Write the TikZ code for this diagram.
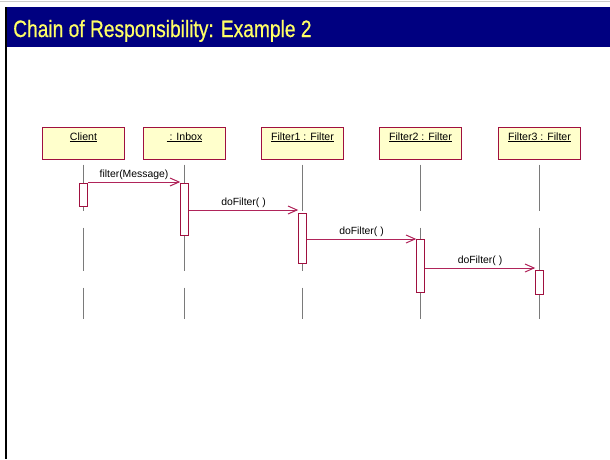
\documentclass[tikz,border=0pt]{standalone}
\usepackage{fontspec}
\setmainfont{Liberation Sans}
\newfontfamily\titlefont[FakeBold=0.6]{Liberation Sans}
\usetikzlibrary{arrows.meta}
\definecolor{barblue}{HTML}{000080}
\definecolor{titleyellow}{HTML}{FFFF66}
\definecolor{objfill}{HTML}{FFFFCC}
\definecolor{objline}{HTML}{A0103F}
\definecolor{msgline}{HTML}{B0245A}
\definecolor{lifegray}{HTML}{7A7A7A}
\begin{document}
\begin{tikzpicture}[x=1pt,y=-1pt,
  obj/.style={draw=objline, line width=1pt, fill=objfill, minimum width=82pt,
    minimum height=32pt, inner xsep=2pt, inner ysep=4pt, text height=9pt,
    text depth=15pt, font=\fontsize{10.6}{12}\selectfont},
  life/.style={draw=lifegray, line width=1.3pt,
    dash pattern=on 46pt off 17pt on 43pt off 17pt on 60pt},
  act/.style={draw=objline, line width=1pt, fill=white, minimum width=7.5pt,
    inner sep=0pt},
  msg/.style={draw=msgline, line width=1pt,
    -{Straight Barb[length=9pt,width=8pt,line width=1pt]}},
  msglabel/.style={above, inner sep=1.5pt, font=\fontsize{10.4}{12}\selectfont}]
\useasboundingbox (0,0) rectangle (610,459);
\fill[white] (0,0) rectangle (610,459);

% slide frame: top rule, title bar, left edge
\draw[gray!40, line width=1pt] (0,1) -- (610,1);
\fill[barblue] (5,7) rectangle (610,47);
\draw[black, line width=2pt] (6,7) -- (6,459);
\node[anchor=base west, inner sep=0pt, text=titleyellow,
  font=\titlefont\fontsize{23.7}{26}\selectfont] (title) at (13,37)
  {\scalebox{0.81}[1]{Chain of Responsibility: Example 2}};

% objects
\node[obj] (client)  at (83.5,143)  {\underline{Client}};
\node[obj] (inbox)   at (184.5,143) {\underline{\ : Inbox}};
\node[obj] (filter1) at (302.5,143) {\underline{Filter1 : Filter}};
\node[obj] (filter2) at (420.5,143) {\underline{Filter2 : Filter}};
\node[obj] (filter3) at (539.5,143) {\underline{Filter3 : Filter}};

% lifelines, broken into segments
\foreach \o in {client,inbox,filter1,filter2,filter3}{
  \coordinate (\o-top) at ([yshift=-5pt]\o.south);
  \coordinate (\o-end) at ([yshift=-159pt]\o.south);
  \draw[life] (\o-top) -- (\o-end);
}

% activations
\node[act, minimum height=23pt] (aclient) at (83.5,194.5) {};
\node[act, minimum height=52pt] (ainbox)  at (184.5,209)  {};
\node[act, minimum height=50pt] (af1)     at (302.5,238)  {};
\node[act, minimum height=53pt] (af2)     at (420.5,265.5){};
\node[act, minimum height=24pt] (af3)     at (539.5,282)  {};

% message heights
\coordinate (m1) at (0,182);
\coordinate (m2) at (0,210);
\coordinate (m3) at (0,239);
\coordinate (m4) at (0,268);

\draw[msg] (aclient.east |- m1) -- node[msglabel] {filter(Message)} (ainbox.west |- m1);
\draw[msg] (ainbox.east |- m2) -- node[msglabel] {doFilter( )} (af1.west |- m2);
\draw[msg] (af1.east |- m3) -- node[msglabel] {doFilter( )} (af2.west |- m3);
\draw[msg] (af2.east |- m4) -- node[msglabel] {doFilter( )} (af3.west |- m4);
\end{tikzpicture}
\end{document}
